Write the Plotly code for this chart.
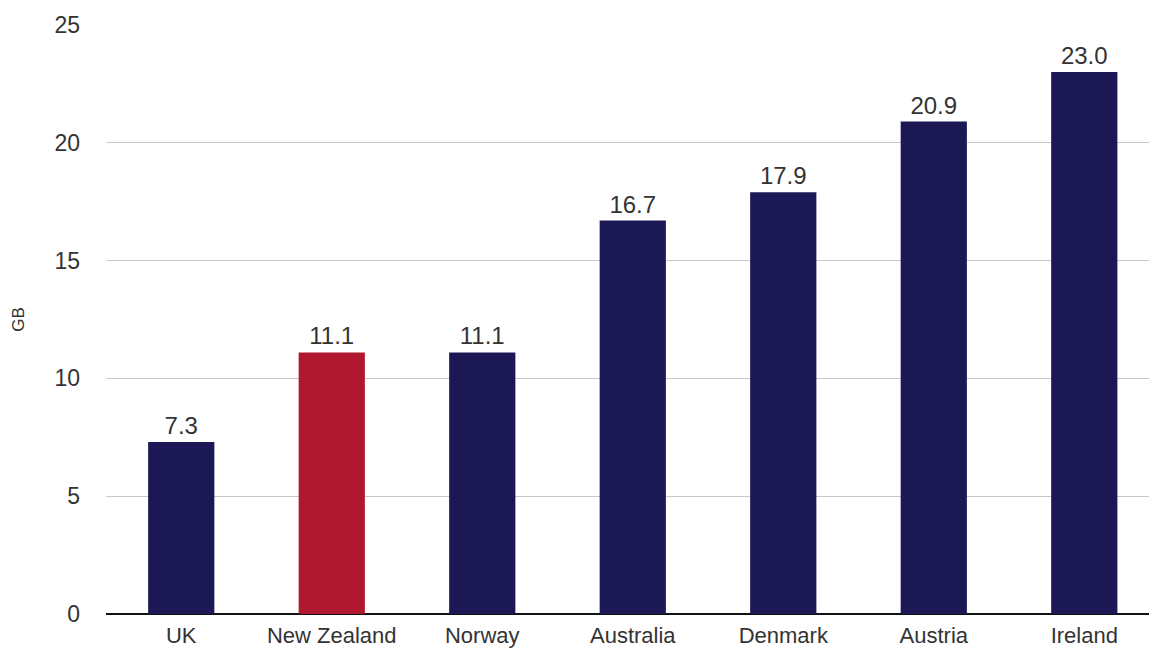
import plotly.graph_objects as go

# Average monthly mobile data use per connection
countries = ["UK", "New Zealand", "Norway", "Australia", "Denmark", "Austria", "Ireland"]
usage_gb = [7.3, 11.1, 11.1, 16.7, 17.9, 20.9, 23.0]
highlight = "New Zealand"

NAVY = "#1b1855"
RED = "#b01830"
FONT = "Liberation Sans, Arial, sans-serif"

bar_colors = [RED if c == highlight else NAVY for c in countries]

fig = go.Figure(
    go.Bar(
        x=countries,
        y=usage_gb,
        width=0.44,
        marker=dict(color=bar_colors, line=dict(width=0)),
        text=[f"{v:.1f}" for v in usage_gb],
        textposition="outside",
        textfont=dict(family=FONT, size=24, color="#333333"),
        cliponaxis=False,
        hoverinfo="x+y",
    )
)

fig.update_layout(
    width=1149,
    height=648,
    margin=dict(l=106, r=0, t=25, b=34),
    paper_bgcolor="white",
    plot_bgcolor="white",
    showlegend=False,
    font=dict(family=FONT, color="#333333"),
    xaxis=dict(
        range=[-0.5, 6.43],
        showgrid=False,
        showline=False,
        ticks="",
        ticklabelstandoff=6,
        tickfont=dict(family=FONT, size=22, color="#333333"),
        automargin=False,
        zeroline=False,
    ),
    yaxis=dict(
        range=[0, 25],
        tickvals=[0, 5, 10, 15, 20, 25],
        showgrid=True,
        gridcolor="#c8c8c8",
        gridwidth=1,
        zeroline=True,
        zerolinecolor="#111111",
        zerolinewidth=2,
        showline=False,
        ticks="",
        ticklabelstandoff=25,
        tickfont=dict(family=FONT, size=23, color="#333333"),
        title=dict(text="GB", font=dict(family=FONT, size=17, color="#333333"), standoff=25),
        automargin=False,
    ),
)

fig.write_html("out.html")
